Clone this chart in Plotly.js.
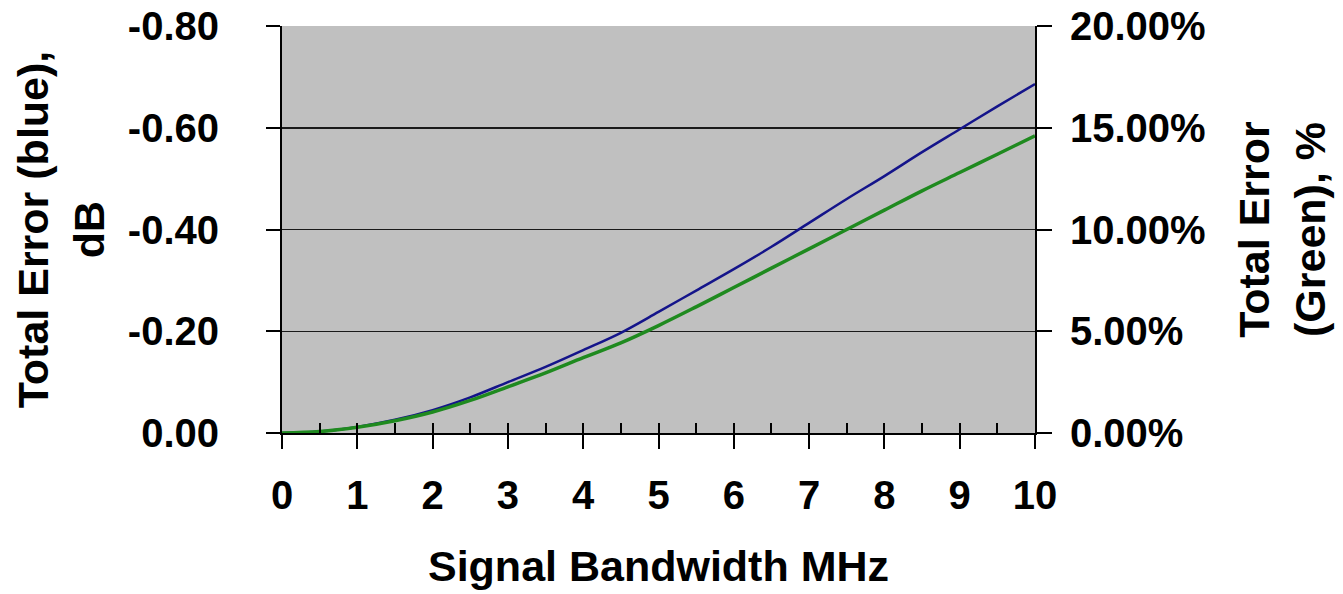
<!DOCTYPE html>
<html>
<head>
<meta charset="utf-8">
<script src="https://cdn.plot.ly/plotly-3.0.1.min.js"></script>
<style>html,body{margin:0;padding:0;background:#fff;}#chart{width:1343px;height:594px;}</style>
</head>
<body>
<div id="chart"></div>
<script>
// Data
const bandwidthMHz = [0,0.5,1,1.5,2,2.5,3,3.5,4,4.5,5,5.5,6,6.5,7,7.5,8,8.5,9,9.5,10];
const totalErrorDb = [0,-0.003,-0.012,-0.026,-0.045,-0.07,-0.10,-0.13,-0.163,-0.197,-0.238,-0.28,-0.322,-0.366,-0.413,-0.46,-0.505,-0.552,-0.597,-0.642,-0.686];
const totalErrorPct = [0,0.07,0.28,0.6,1.03,1.6,2.27,2.95,3.7,4.43,5.28,6.2,7.15,8.1,9.05,10.0,10.95,11.9,12.8,13.7,14.6];
const xTickVals = [0,1,2,3,4,5,6,7,8,9,10];
const xTickText = ["0","1","2","3","4","5","6","7","8","9","10"];
const xMinorVals = [0.5,1.5,2.5,3.5,4.5,5.5,6.5,7.5,8.5,9.5];
const dbTickVals = [0,-0.2,-0.4,-0.6,-0.8];
const dbTickText = ["0.00","-0.20","-0.40","-0.60","-0.80"];
const pctTickVals = [0,5,10,15,20];
const pctTickText = ["0.00%","5.00%","10.00%","15.00%","20.00%"];
const xTitle = "Signal Bandwidth MHz";
const yTitle = "Total Error (blue),<br>dB";
const y2Title = "Total Error<br>(Green), %";

const FONT = "Liberation Sans, Arial, sans-serif";
const tickFont = {family: FONT, size: 40, color: "#000", weight: 700};
const titleFont = {family: FONT, size: 43, color: "#000", weight: 700};

const traces = [
  {x: bandwidthMHz, y: totalErrorDb, type: "scatter", mode: "lines", xaxis: "x", yaxis: "y",
   line: {color: "#14148a", width: 2.5, shape: "spline"}, showlegend: false, hoverinfo: "skip"},
  {x: bandwidthMHz, y: totalErrorPct, type: "scatter", mode: "lines", xaxis: "x", yaxis: "y2",
   line: {color: "#1f8a1f", width: 3.5, shape: "spline"}, showlegend: false, hoverinfo: "skip"},
  {x: bandwidthMHz, y: totalErrorDb, type: "scatter", mode: "lines", xaxis: "x2", yaxis: "y",
   line: {color: "rgba(0,0,0,0)", width: 0}, showlegend: false, hoverinfo: "skip"}
];

const layout = {
  width: 1343, height: 594,
  margin: {l: 282, r: 308, t: 26, b: 161, pad: 0},
  paper_bgcolor: "#ffffff",
  plot_bgcolor: "#c0c0c0",
  showlegend: false,
  xaxis: {
    range: [0, 10], tickvals: xTickVals, ticktext: xTickText,
    ticks: "outside", ticklen: 14, tickwidth: 2, tickcolor: "#000",
    minor: {tickvals: xMinorVals, ticks: "inside", ticklen: 10, tickwidth: 2, tickcolor: "#000", showgrid: false},
    showline: true, linecolor: "#000", linewidth: 2,
    showgrid: false, zeroline: false, automargin: false,
    tickfont: tickFont, ticklabelstandoff: 12,
    title: {text: xTitle, font: titleFont, standoff: 35}
  },
  xaxis2: {
    range: [0, 10], overlaying: "x", side: "bottom", anchor: "y",
    tickvals: xTickVals, ticks: "inside", ticklen: 10, tickwidth: 2, tickcolor: "#000",
    showticklabels: false, showgrid: false, zeroline: false, showline: false, automargin: false
  },
  yaxis: {
    range: [0, -0.8], tickvals: dbTickVals, ticktext: dbTickText,
    ticks: "outside", ticklen: 14, tickwidth: 2, tickcolor: "#000",
    showline: true, linecolor: "#000", linewidth: 2,
    showgrid: true, gridcolor: "#1a1a1a", gridwidth: 1.5, zeroline: false, automargin: false,
    tickfont: tickFont, ticklabelstandoff: 39,
    title: {text: yTitle, font: titleFont, standoff: 10}
  },
  yaxis2: {
    range: [0, 20], overlaying: "y", side: "right", anchor: "x",
    tickvals: pctTickVals, ticktext: pctTickText,
    ticks: "outside", ticklen: 15, tickwidth: 2, tickcolor: "#000",
    showline: true, linecolor: "#000", linewidth: 2,
    showgrid: false, zeroline: false, automargin: false,
    tickfont: tickFont, ticklabelstandoff: 10,
    title: {text: y2Title, font: titleFont, standoff: 34}
  }
};

Plotly.newPlot("chart", traces, layout, {staticPlot: true, displayModeBar: false});
</script>
</body>
</html>
